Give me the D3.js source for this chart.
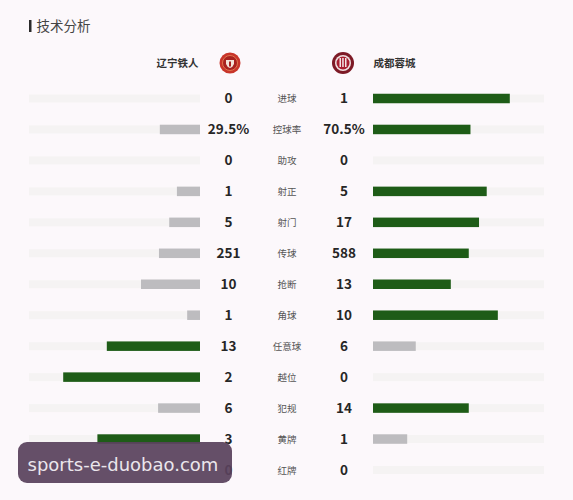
<!DOCTYPE html>
<html><head><meta charset="utf-8">
<script src="https://cdnjs.cloudflare.com/ajax/libs/d3/7.8.5/d3.min.js"></script>
<style>html,body{margin:0;padding:0;background:#fcf8fb}svg{display:block}text{font-family:"Noto Sans CJK SC","Noto Sans",sans-serif}</style>
</head><body><svg id="c" width="573" height="500"></svg>
<script>
const title = "技术分析";
const homeTeam = "辽宁铁人";
const awayTeam = "成都蓉城";
const categories = ["进球","控球率","助攻","射正","射门","传球","抢断","角球","任意球","越位","犯规","黄牌","红牌"];
const homeLabels = ["0","29.5%","0","1","5","251","10","1","13","2","6","3","0"];
const awayLabels = ["1","70.5%","0","5","17","588","13","10","6","0","14","1","0"];
// bar length as a share of the track
const homeShare = [0,23.5,0,13.5,18,24,34.5,7.5,54.5,80,24.5,60,0];
const awayShare = [80,57,0,66.5,62,56,45.5,73,25,0,56,20,0];
const watermark = "sports-e-duobao.com";

const GREEN = "#1e5c17", GREY = "#bdbcbf", TRACK = "#f5f3f3", INK = "#262626";
const svg = d3.select("#c");
const y = d3.scalePoint().domain(categories).range([98.5, 470]);
const xHome = d3.scaleLinear().domain([0, 100]).range([200, 29]);
const xAway = d3.scaleLinear().domain([0, 100]).range([373, 544]);
const H = 9.5;
const rows = categories.map((c, i) => ({
  c, hl: homeLabels[i], al: awayLabels[i], hs: homeShare[i], as: awayShare[i],
  hLead: parseFloat(homeLabels[i]) > parseFloat(awayLabels[i]),
  aLead: parseFloat(awayLabels[i]) > parseFloat(homeLabels[i])
}));

// heading
svg.append("rect").attr("x", 29).attr("y", 20).attr("width", 2.5).attr("height", 12).attr("fill", "#2a2a2a");
svg.append("text").attr("x", 36.5).attr("y", 31).attr("font-size", 13.5).attr("fill", "#444").text(title);

// team names
svg.append("text").attr("x", 198.5).attr("y", 67).attr("text-anchor", "end").attr("font-size", 10.5).attr("font-weight", 700).attr("fill", "#333").text(homeTeam);
svg.append("text").attr("x", 373.5).attr("y", 67).attr("font-size", 10.5).attr("font-weight", 700).attr("fill", "#333").text(awayTeam);

// home crest
const h = svg.append("g").attr("transform", "translate(230,63)");
h.append("circle").attr("r", 10.5).attr("fill", "#c8352a");
h.append("circle").attr("r", 7.5).attr("fill", "#a8221f").attr("stroke", "#e0764f").attr("stroke-width", 1);
h.append("path").attr("d", "M-4,-3H4V1Q3,4 0,5Q-3,4 -4,1Z").attr("fill", "#f3e3d8");
h.append("path").attr("d", "M-1,-1.5H1V3.5H-1Z").attr("fill", "#a8221f");

// away crest
const a = svg.append("g").attr("transform", "translate(343,63)");
a.append("circle").attr("r", 11).attr("fill", "#7d1a26");
a.append("circle").attr("r", 8).attr("fill", "#f0e2e2");
a.append("circle").attr("r", 6.5).attr("fill", "#a81f30");
a.selectAll("rect.s").data([-3.5, -0.8, 2]).join("rect").attr("class", "s")
  .attr("x", d => d).attr("y", -5).attr("width", 1.5).attr("height", 9).attr("fill", "#f3e6e6");

// rows
const row = svg.selectAll("g.row").data(rows).join("g").attr("class", "row");
row.append("rect").attr("x", xHome(100)).attr("y", d => y(d.c) - 4).attr("width", xHome(0) - xHome(100)).attr("height", 8).attr("fill", TRACK);
row.append("rect").attr("x", xAway(0)).attr("y", d => y(d.c) - 4).attr("width", xAway(100) - xAway(0)).attr("height", 8).attr("fill", TRACK);
row.append("rect").attr("x", d => xHome(d.hs)).attr("y", d => y(d.c) - H / 2).attr("width", d => xHome(0) - xHome(d.hs)).attr("height", H)
  .attr("fill", d => d.hLead ? GREEN : GREY);
row.append("rect").attr("x", xAway(0)).attr("y", d => y(d.c) - H / 2).attr("width", d => xAway(d.as) - xAway(0)).attr("height", H)
  .attr("fill", d => d.aLead ? GREEN : GREY);
row.append("text").attr("x", 228.5).attr("y", d => y(d.c) + 4.5).attr("text-anchor", "middle").attr("font-size", 13.5).attr("font-weight", 600).attr("fill", INK).text(d => d.hl);
row.append("text").attr("x", 344).attr("y", d => y(d.c) + 4.5).attr("text-anchor", "middle").attr("font-size", 13.5).attr("font-weight", 600).attr("fill", INK).text(d => d.al);
row.append("text").attr("x", 287).attr("y", d => y(d.c) + 3.5).attr("text-anchor", "middle").attr("font-size", 9.5).attr("fill", "#555").text(d => d.c);

// watermark
svg.append("rect").attr("x", 18).attr("y", 442).attr("width", 214).attr("height", 41).attr("rx", 9).attr("fill", "#59425d").attr("fill-opacity", 0.93);
svg.append("text").attr("x", 27.5).attr("y", 471).attr("font-size", 18).attr("fill", "#ebe6ec").style("font-family", "'DejaVu Sans'").text(watermark);
</script></body></html>
